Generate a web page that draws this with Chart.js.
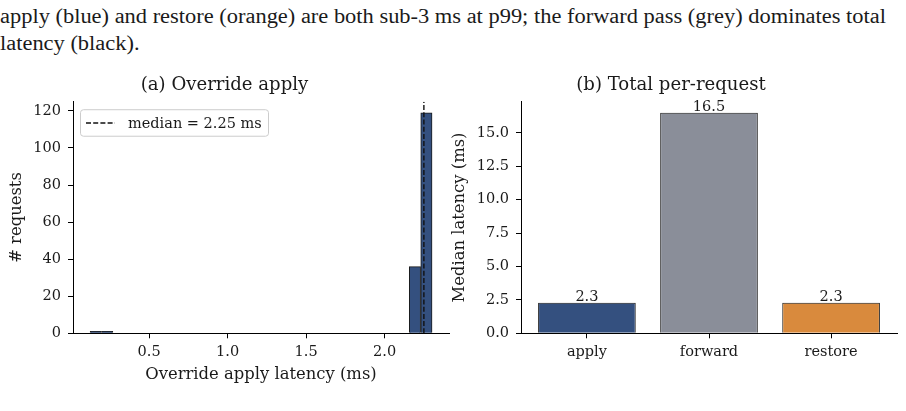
<!DOCTYPE html>
<html>
<head>
<meta charset="utf-8">
<script src="https://cdn.jsdelivr.net/npm/chart.js@4.4.1/dist/chart.umd.min.js"></script>
<style>
  html, body { margin: 0; padding: 0; background: #fff; }
  #page { position: relative; width: 906px; height: 411px; overflow: hidden; background: #fff; }
  .cap { position: absolute; left: 0; font-family: "Liberation Serif", serif; font-size: 20px; color: #1a1a1a; white-space: nowrap; transform-origin: 0 0; }
  canvas { position: absolute; }
</style>
</head>
<body>
<div id="page">
  <div class="cap" id="cap1" style="top:5px">apply (blue) and restore (orange) are both sub-3 ms at p99; the forward pass (grey) dominates total</div>
  <div class="cap" id="cap2" style="top:32px">latency (black).</div>
  <canvas id="histChart" width="460" height="340" style="left:0;top:60px"></canvas>
  <canvas id="totalChart" width="461" height="340" style="left:445px;top:60px"></canvas>
</div>
<script>
// (a) histogram of override apply latency
const binCenters = [0.160, 0.233, 0.306, 0.378, 0.451, 0.523, 0.596, 0.669, 0.741, 0.814,
                    0.886, 0.959, 1.032, 1.104, 1.177, 1.249, 1.322, 1.395, 1.467, 1.540,
                    1.612, 1.685, 1.758, 1.830, 1.903, 1.975, 2.048, 2.121, 2.193, 2.266];
const binCounts = [1, 1, 0, 0, 0, 0, 0, 0, 0, 0,
                   0, 0, 0, 0, 0, 0, 0, 0, 0, 0,
                   0, 0, 0, 0, 0, 0, 0, 0, 36, 119];
const medianApply = 2.25;
const histXTicks = [0.5, 1.0, 1.5, 2.0];
const histYTicks = [0, 20, 40, 60, 80, 100, 120];

// (b) median per-request latency
const stages = ["apply", "forward", "restore"];
const medianLatency = [2.28, 16.5, 2.29];
const stageColors = ["#34507f", "#8a8e99", "#d98a3d"];
const totalYTicks = [0.0, 2.5, 5.0, 7.5, 10.0, 12.5, 15.0];

const serif = "'DejaVu Serif', serif";
const tickFont = { family: serif, size: 14.5 };
const labelFont = { family: serif, size: 16.4 };
const titleFont = { family: serif, size: 18.1, weight: "normal" };
const ink = "#1a1a1a";

function axisBase() {
  return {
    offset: false,
    grid: { display: true, offset: false, drawOnChartArea: false, drawTicks: true, tickLength: 5, color: "#000", lineWidth: 1 },
    border: { display: true, color: "#000", width: 1 },
    ticks: { font: tickFont, color: ink, padding: 5, maxRotation: 0, autoSkip: false }
  };
}

// legend drawn inside the plot, matplotlib style
const insideLegend = {
  id: "insideLegend",
  afterDraw(chart) {
    const ca = chart.chartArea, ctx = chart.ctx;
    const ds = chart.data.datasets[0];
    const x0 = ca.left + 7, y0 = ca.top + 7.5, w = 188, h = 26.5;
    ctx.save();
    ctx.beginPath();
    ctx.roundRect(x0 + 0.5, y0 + 0.5, w, h, 3);
    ctx.fillStyle = "rgba(255,255,255,0.8)";
    ctx.fill();
    ctx.strokeStyle = "#cccccc";
    ctx.lineWidth = 1;
    ctx.stroke();
    const cy = y0 + h / 2 + 0.5;
    ctx.beginPath();
    ctx.setLineDash(ds.borderDash);
    ctx.strokeStyle = ds.borderColor;
    ctx.lineWidth = ds.borderWidth;
    ctx.moveTo(x0 + 6, cy);
    ctx.lineTo(x0 + 35, cy);
    ctx.stroke();
    ctx.setLineDash([]);
    ctx.fillStyle = ink;
    ctx.font = tickFont.size + "px " + serif;
    ctx.textBaseline = "middle";
    ctx.textAlign = "left";
    ctx.fillText(ds.label, x0 + 48, cy + 1);
    ctx.restore();
  }
};

// value labels on top of bars
const barValues = {
  id: "barValues",
  afterDatasetsDraw(chart) {
    const ctx = chart.ctx;
    const meta = chart.getDatasetMeta(0);
    ctx.save();
    ctx.fillStyle = ink;
    ctx.font = tickFont.size + "px " + serif;
    ctx.textAlign = "center";
    ctx.textBaseline = "alphabetic";
    meta.data.forEach((bar, i) => {
      ctx.fillText(medianLatency[i].toFixed(1), bar.x, bar.y - 1.5);
    });
    ctx.restore();
  }
};

const histX = axisBase();
Object.assign(histX, {
  type: "linear", min: 0.015, max: 2.41,
  afterBuildTicks: s => { s.ticks = histXTicks.map(v => ({ value: v })); },
  afterFit: s => { s.height = 66.7; },
  title: { display: true, text: "Override apply latency (ms)", font: labelFont, color: ink, padding: { top: 0, bottom: 15.7 } }
});
histX.ticks.callback = v => v.toFixed(1);

const histY = axisBase();
Object.assign(histY, {
  min: 0, max: 124.95,
  afterBuildTicks: s => { s.ticks = histYTicks.map(v => ({ value: v })); },
  afterFit: s => { s.width = 73; },
  title: { display: true, text: "# requests", font: labelFont, color: ink, padding: { top: 6.9, bottom: 0 } }
});
histY.ticks.padding = 7;

new Chart(document.getElementById("histChart"), {
  type: "bar",
  data: {
    datasets: [
      {
        type: "line",
        label: "median = " + medianApply.toFixed(2) + " ms",
        data: [{ x: medianApply, y: 0 }, { x: medianApply, y: 124.95 }],
        borderColor: "#111",
        borderWidth: 1.4,
        borderDash: [5, 2.2],
        pointRadius: 0,
        order: 0
      },
      {
        type: "bar",
        label: "count",
        data: binCenters.map((c, i) => ({ x: c, y: binCounts[i] })),
        backgroundColor: stageColors[0],
        borderColor: "#1a1a1a",
        borderWidth: 1,
        categoryPercentage: 1,
        barPercentage: 1,
        order: 1
      }
    ]
  },
  options: {
    responsive: false,
    animation: false,
    layout: { padding: { left: 0, right: 11, top: 0, bottom: 0 } },
    plugins: {
      legend: { display: false },
      tooltip: { enabled: false },
      title: { display: true, text: "(a) Override apply", font: titleFont, color: ink, padding: { top: 14, bottom: 6 } }
    },
    scales: { x: histX, y: histY }
  },
  plugins: [insideLegend]
});

const totX = axisBase();
Object.assign(totX, {
  type: "linear", min: -0.54, max: 2.54,
  afterBuildTicks: s => { s.ticks = stages.map((_, i) => ({ value: i })); },
  afterFit: s => { s.height = 66.7; }
});
totX.ticks.callback = v => stages[v];

const totY = axisBase();
Object.assign(totY, {
  min: 0, max: 17.325,
  afterBuildTicks: s => { s.ticks = totalYTicks.map(v => ({ value: v })); },
  afterFit: s => { s.width = 76; },
  title: { display: true, text: "Median latency (ms)", font: labelFont, color: ink, padding: { top: 4.9, bottom: 0 } }
});
totY.ticks.padding = 7;
totY.ticks.callback = v => v.toFixed(1);

new Chart(document.getElementById("totalChart"), {
  type: "bar",
  data: {
    datasets: [{
      label: "median latency",
      data: medianLatency.map((v, i) => ({ x: i, y: v })),
      backgroundColor: stageColors,
      borderColor: "#1a1a1a",
      borderWidth: 1,
      categoryPercentage: 0.8,
      barPercentage: 1
    }]
  },
  options: {
    responsive: false,
    animation: false,
    layout: { padding: { left: 0, right: 9, top: 0, bottom: 0 } },
    plugins: {
      legend: { display: false },
      tooltip: { enabled: false },
      title: { display: true, text: "(b) Total per-request", font: titleFont, color: ink, padding: { top: 14, bottom: 6 } }
    },
    scales: { x: totX, y: totY }
  },
  plugins: [barValues]
});

// stretch the caption line to the width it has in the paper
const cap1 = document.getElementById("cap1");
const k = 886 / cap1.getBoundingClientRect().width;
cap1.style.transform = "scaleX(" + k + ")";
document.getElementById("cap2").style.transform = "scaleX(" + k + ")";
</script>
</body>
</html>
